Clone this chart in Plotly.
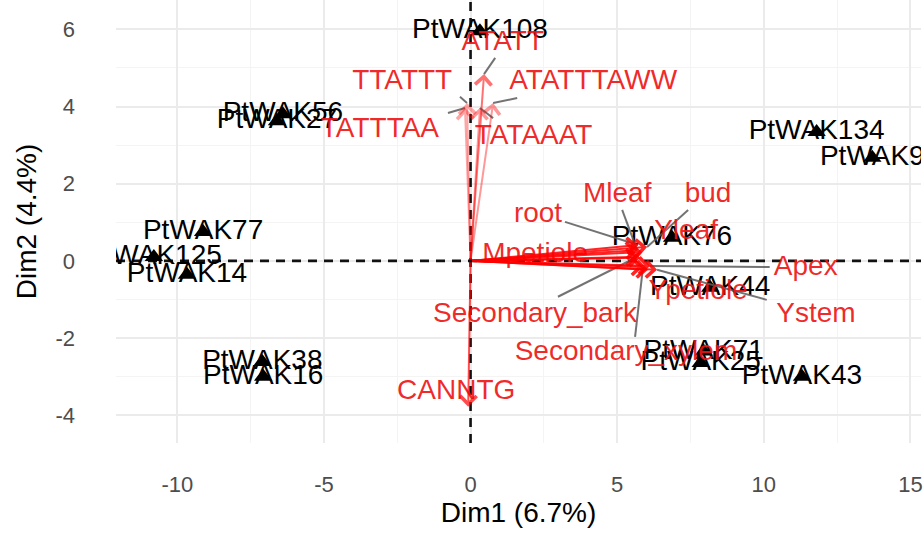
import plotly.graph_objects as go

# ---- individuals ----
ind_names = ["PtWAK108", "PtWAK56", "PtWAK27", "PtWAK134", "PtWAK9", "PtWAK77",
             "PtWAK125", "PtWAK14", "PtWAK76", "PtWAK44", "PtWAK38", "PtWAK16",
             "PtWAK71", "PtWAK25", "PtWAK43"]
ind_x = [0.32, -6.4, -6.6, 11.8, 13.7, -9.12, -10.8, -9.67, 6.87, 8.17, -7.1, -7.07,
         7.95, 7.85, 11.3]
ind_y = [5.95, 3.80, 3.62, 3.34, 2.67, 0.75, 0.10, -0.36, 0.60, -0.70, -2.62, -3.0,
         -2.35, -2.65, -3.0]

# ---- variables ----
var_names = ["ATATT", "TTATTT", "ATATTTAWW", "TATTTAA", "TATAAAT", "CANNTG",
             "root", "Mleaf", "bud", "Yleaf", "Mpetiole", "Secondary_bark",
             "Secondary_xylem", "Apex", "Ypetiole", "Ystem"]
var_x = [0.46, -0.12, 0.77, -0.19, 0.32, -0.08, 5.71, 5.68, 6.02, 5.85, 5.78, 5.68,
         5.88, 6.12, 6.05, 6.36]
var_y = [4.84, 4.09, 4.09, 3.96, 3.96, -3.78, 0.41, 0.28, 0.36, 0.23, 0.08, 0.10,
         -0.16, -0.13, -0.23, -0.23]
var_alpha = [0.55, 0.35, 0.4, 0.35, 0.4, 0.7, 0.85, 0.85, 0.85, 0.85, 0.85, 0.85,
             0.85, 0.85, 0.85, 0.85]
lab_x = [1.1, -2.33, 4.18, -3.09, 2.15, -0.49, 2.3, 5.0, 8.1, 7.35, 2.2, 2.2, 5.3,
         11.43, 7.76, 11.78]
lab_y = [5.65, 4.64, 4.64, 3.39, 3.21, -3.39, 1.19, 1.71, 1.71, 0.75, 0.15, -1.4,
         -2.38, -0.18, -0.8, -1.4]
# repel segment start points (None = no segment)
seg_x = [0.84, -0.36, 1.59, -0.77, 0.77, None, 3.22, 5.17, 7.42, None, None, 2.98,
         5.61, 10.2, None, 10.1]
seg_y = [5.26, 4.25, 4.22, 3.83, 3.70, None, 1.01, 1.32, 1.32, None, None, -0.93,
         -1.97, -0.16, None, -1.01]

x_ticks = [-10, -5, 0, 5, 10, 15]
x_tick_text = ["-10", "-5", "0", "5", "10", "15"]
y_ticks = [-4, -2, 0, 2, 4, 6]
y_tick_text = ["-4", "-2", "0", "2", "4", "6"]
x_minor = [-12.5, -7.5, -2.5, 2.5, 7.5, 12.5]
y_minor = [-3, -1, 1, 3, 5]

FONT = "Liberation Sans"
RED = "rgba(238,20,20,0.92)"

fig = go.Figure()

# dashed zero lines (as line traces through the axes)
fig.add_trace(go.Scatter(x=[-12.09, 15.36], y=[0, 0], mode="lines",
                         line=dict(color="#111111", width=2.6, dash="9px,7px"),
                         showlegend=False, hoverinfo="skip"))
fig.add_trace(go.Scatter(x=[0, 0], y=[-4.72, 6.76], mode="lines",
                         line=dict(color="#111111", width=2.6, dash="9px,7px"),
                         showlegend=False, hoverinfo="skip"))

# individuals
fig.add_trace(go.Scatter(
    x=ind_x, y=ind_y, mode="markers+text", text=ind_names,
    textposition="middle center",
    textfont=dict(family=FONT, size=28, color="black"),
    marker=dict(symbol="triangle-up", size=16, color="black"),
    showlegend=False, hoverinfo="skip", cliponaxis=True))

# grey repel segments
sx, sy = [], []
for a, b, tx, ty in zip(seg_x, seg_y, var_x, var_y):
    if a is None:
        continue
    sx += [a, tx, None]
    sy += [b, ty, None]
fig.add_trace(go.Scatter(x=sx, y=sy, mode="lines",
                         line=dict(color="rgba(90,90,90,0.85)", width=2),
                         showlegend=False, hoverinfo="skip"))

# variable labels
fig.add_trace(go.Scatter(
    x=lab_x, y=lab_y, mode="text", text=var_names, textposition="middle center",
    textfont=dict(family=FONT, size=28, color=RED),
    showlegend=False, hoverinfo="skip", cliponaxis=True))

# arrows
for tx, ty, al in zip(var_x, var_y, var_alpha):
    fig.add_annotation(x=tx, y=ty, ax=0, ay=0, xref="x", yref="y", axref="x", ayref="y",
                       text="", showarrow=True, arrowhead=4, arrowsize=1.6,
                       arrowwidth=2, standoff=0,
                       arrowcolor=f"rgba(255,0,0,{al})")

fig.update_layout(
    width=924, height=540, autosize=False,
    margin=dict(l=116, r=3, t=0, b=97),
    paper_bgcolor="white", plot_bgcolor="white",
    font=dict(family=FONT),
    showlegend=False,
)
fig.update_xaxes(
    range=[-12.09, 15.36], tickvals=x_ticks, ticktext=x_tick_text,
    showgrid=True, gridcolor="#EBEBEB", gridwidth=1.5, zeroline=False,
    showline=False, ticks="", ticklabelstandoff=26,
    tickfont=dict(family=FONT, size=22, color="#4D4D4D"),
    minor=dict(tickvals=x_minor, showgrid=True, gridcolor="#F4F4F4", gridwidth=1),
    title=dict(text="Dim1 (6.7%)", font=dict(family=FONT, size=28, color="black"),
               standoff=6),
    automargin=False)
fig.update_yaxes(
    range=[-4.72, 6.76], tickvals=y_ticks, ticktext=y_tick_text,
    showgrid=True, gridcolor="#EBEBEB", gridwidth=1.5, zeroline=False,
    showline=False, ticks="", ticklabelstandoff=40,
    tickfont=dict(family=FONT, size=22, color="#4D4D4D"),
    minor=dict(tickvals=y_minor, showgrid=True, gridcolor="#F4F4F4", gridwidth=1),
    title=dict(text="Dim2 (4.4%)", font=dict(family=FONT, size=28, color="black"),
               standoff=10),
    automargin=False)

fig.write_html("out.html")
